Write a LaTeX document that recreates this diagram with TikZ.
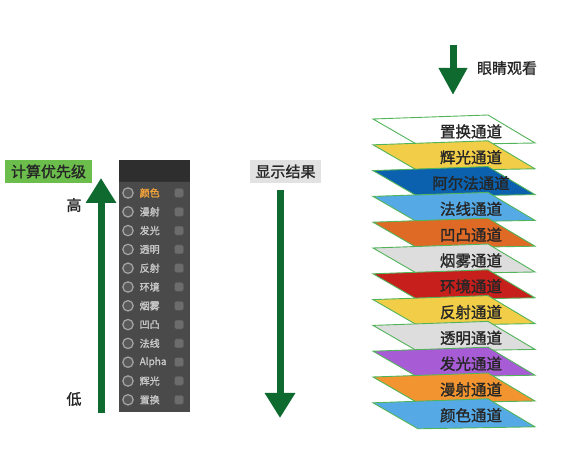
\documentclass[tikz,border=0pt]{standalone}
\usepackage{fontspec}
\setmainfont{Noto Sans CJK SC}
\newfontfamily\midfont{Noto Sans CJK SC}[FakeBold=1.3]
\usepackage{xcolor}
\usetikzlibrary{arrows.meta}

\definecolor{arrowgreen}{HTML}{0E6A2E}
\definecolor{tagreen}{HTML}{6BBD4C}
\definecolor{taggray}{HTML}{E2E2E2}
\definecolor{panelbg}{HTML}{4A4A4A}
\definecolor{paneltop}{HTML}{2E2E2E}
\definecolor{paneltext}{HTML}{C9C9C9}
\definecolor{activeorange}{HTML}{F2A23A}
\definecolor{layeredge}{HTML}{52B45A}
\definecolor{goldyellow}{HTML}{F1CD48}
\definecolor{deepblue}{HTML}{0B61AD}
\definecolor{skyblue}{HTML}{55AAE6}
\definecolor{rustorange}{HTML}{DF6A26}
\definecolor{fogray}{HTML}{DDDDDD}
\definecolor{envred}{HTML}{C61F1C}
\definecolor{violet}{HTML}{A75CD6}
\definecolor{amber}{HTML}{F29530}

\begin{document}
\begin{tikzpicture}[
			x=1pt, y=-1pt,
			tag/.style={rectangle, inner sep=0pt, minimum width=87pt, minimum height=23pt, text=black!85, font=\fontsize{15}{15}\midfont},
			label/.style={text=black!85, font=\fontsize{15}{15}\midfont},
			bigarrow/.style={line width=7pt, arrowgreen, -{Triangle[width=29pt,length=25pt]}},
			layer/.style={draw=layeredge, line width=0.9pt, line join=miter},
			layertext/.style={text=black!85, font=\fontsize{15.5}{15.5}\midfont},
			rowtext/.style={anchor=west, inner sep=0pt, font=\fontsize{10}{10}\midfont},
			radio/.style={draw=gray!70, line width=1.2pt, fill=gray!70!black},
			knob/.style={rounded corners=1.5pt, fill=gray!85!black, draw=gray!65!black, line width=0.4pt}
		]
		\useasboundingbox (0,0) rectangle (566,457);

		% Priority tag and arrow
		\node[tag, fill=tagreen] (prio) at (48.5,171.5) {计算优先级};
		\coordinate (prio-low) at (101,413);
		\coordinate (prio-high) at (101,178);
		\draw[bigarrow] (prio-low) -- (prio-high);
		\node[label] (high) at (74,205) {高};
		\node[label] (low) at (74,399) {低};

		% Channel panel
		\fill[panelbg] (119,160) rectangle (190,412);
		\fill[paneltop] (119,160) rectangle (190,181);
		\draw[gray!40!black, line width=0.6pt] (119,181) -- (190,181);
		\foreach \lab/\tc [count=\i from 0] in {颜色/activeorange, 漫射/paneltext, 发光/paneltext, 透明/paneltext, 反射/paneltext, 环境/paneltext, 烟雾/paneltext, 凹凸/paneltext, 法线/paneltext, Alpha/paneltext, 辉光/paneltext, 置换/paneltext}{
			\pgfmathsetmacro{\ry}{193+18.8*\i}
			\draw[radio] (128,\ry) circle (5.2pt);
			\node[rowtext, text=\tc] (row\i) at (139.5,\ry) {\lab};
			\draw[knob] (174.5,\ry-4.5) rectangle (183.5,\ry+4.5);
		}

		% Result tag and arrow
		\node[tag, fill=taggray, minimum width=71pt] (result) at (285.5,171.5) {显示结果};
		\coordinate (result-top) at (280,190);
		\coordinate (result-bottom) at (280,418);
		\draw[bigarrow] (result-top) -- (result-bottom);

		% Eye arrow
		\coordinate (eye-top) at (453,45);
		\coordinate (eye-bottom) at (453,95);
		\draw[bigarrow, -{Triangle[width=27pt,length=27pt]}] (eye-top) -- (eye-bottom);
		\node[label] (eye) at (507,68) {眼睛观看};

		% Stacked channel layers
		\foreach \name/\col [count=\i from 0] in {置换/white, 辉光/goldyellow, 阿尔法/deepblue, 法线/skyblue, 凹凸/rustorange, 烟雾/fogray, 环境/envred, 反射/goldyellow, 透明/fogray, 发光/violet, 漫射/amber, 颜色/skyblue}{
			\pgfmathsetmacro{\ly}{130+25.8*\i}
			\draw[layer, fill=\col, shift={(454,\ly)}] (-81,-11) -- (34,-15) -- (81,13) -- (-36,15) -- cycle;
			\node[layertext] (layer\i) at (471,\ly+1.5) {\name 通道};
		}

	\end{tikzpicture}
\end{document}
